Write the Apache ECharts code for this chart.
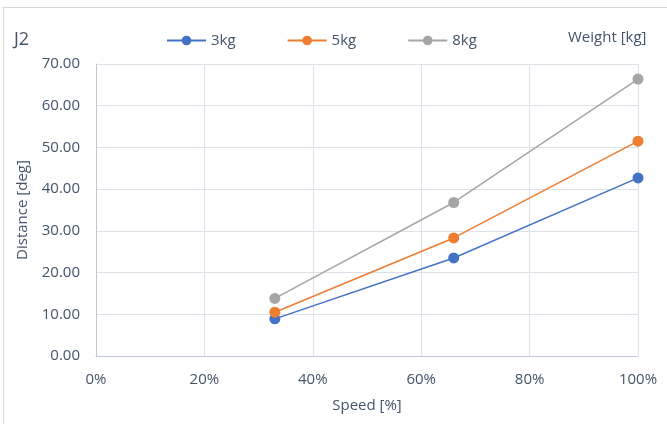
<!DOCTYPE html>
<html>
<head>
<meta charset="utf-8">
<script src="https://cdn.jsdelivr.net/npm/echarts@6/dist/echarts.min.js"></script>
<style>
  html, body { margin: 0; padding: 0; background: #fff; }
  #chart { width: 667px; height: 424px; }
  .frame { position: absolute; left: 3px; top: 7px; width: 700px; height: 430px; border: 1px solid #d9d9d9; box-sizing: border-box; pointer-events: none; }
</style>
</head>
<body>
<div id="chart"></div>
<div class="frame"></div>
<script>
// 速度 (%) と距離 (deg)
const speeds = [33, 66, 100]
const seriesNames = ['3kg', '5kg', '8kg']
const dist3kg = [8.9, 23.5, 42.7]
const dist5kg = [10.5, 28.3, 51.5]
const dist8kg = [13.8, 36.8, 66.4]
const colors = ['#4472C4', '#ED7D31', '#A5A5A5']

const textColor = '#44546A'
const fontFamily = '"Open Sans", "Noto Sans", sans-serif'

const chart = echarts.init(document.getElementById('chart'))

const makeSeries = (name, values, color) => ({
  name: name,
  type: 'line',
  data: speeds.map((s, i) => [s, values[i]]),
  symbol: 'circle',
  symbolSize: 11,
  lineStyle: { color: color, width: 1.5 },
  itemStyle: { color: color },
  animation: false
})

chart.setOption({
  textStyle: { fontFamily: fontFamily },
  title: [
    {
      text: 'J2',
      left: 9,
      top: 26,
      textStyle: { color: textColor, fontSize: 18, fontWeight: 'normal' }
    },
    {
      text: 'Weight [kg]',
      left: 563,
      top: 25,
      textStyle: { color: textColor, fontSize: 15, fontWeight: 'normal' }
    }
  ],
  legend: {
    data: seriesNames,
    left: 161,
    top: 28,
    itemGap: 51,
    itemWidth: 39,
    itemHeight: 12,
    textStyle: { color: textColor, fontSize: 15 }
  },
  grid: {
    left: 96,
    right: 29,
    top: 64,
    bottom: 68
  },
  xAxis: {
    type: 'value',
    min: 0,
    max: 100,
    interval: 20,
    name: 'Speed [%]',
    nameLocation: 'middle',
    nameGap: 42,
    nameTextStyle: { color: textColor, fontSize: 15 },
    axisLine: { show: true, lineStyle: { color: '#BFC7D5' } },
    axisTick: { show: false },
    axisLabel: { color: textColor, fontSize: 15, margin: 16, formatter: '{value}%' },
    splitLine: { show: true, lineStyle: { color: '#DDE2EA' } }
  },
  yAxis: {
    type: 'value',
    min: 0,
    max: 70,
    interval: 10,
    name: 'Distance [deg]',
    nameLocation: 'middle',
    nameGap: 66,
    nameTextStyle: { color: textColor, fontSize: 15 },
    axisLine: { show: true, lineStyle: { color: '#BFC7D5' } },
    axisTick: { show: false },
    axisLabel: {
      color: textColor,
      fontSize: 15,
      margin: 16,
      formatter: v => v.toFixed(2)
    },
    splitLine: { show: true, lineStyle: { color: '#DDE2EA' } }
  },
  series: [
    makeSeries(seriesNames[0], dist3kg, colors[0]),
    makeSeries(seriesNames[1], dist5kg, colors[1]),
    makeSeries(seriesNames[2], dist8kg, colors[2])
  ]
})
</script>
</body>
</html>
